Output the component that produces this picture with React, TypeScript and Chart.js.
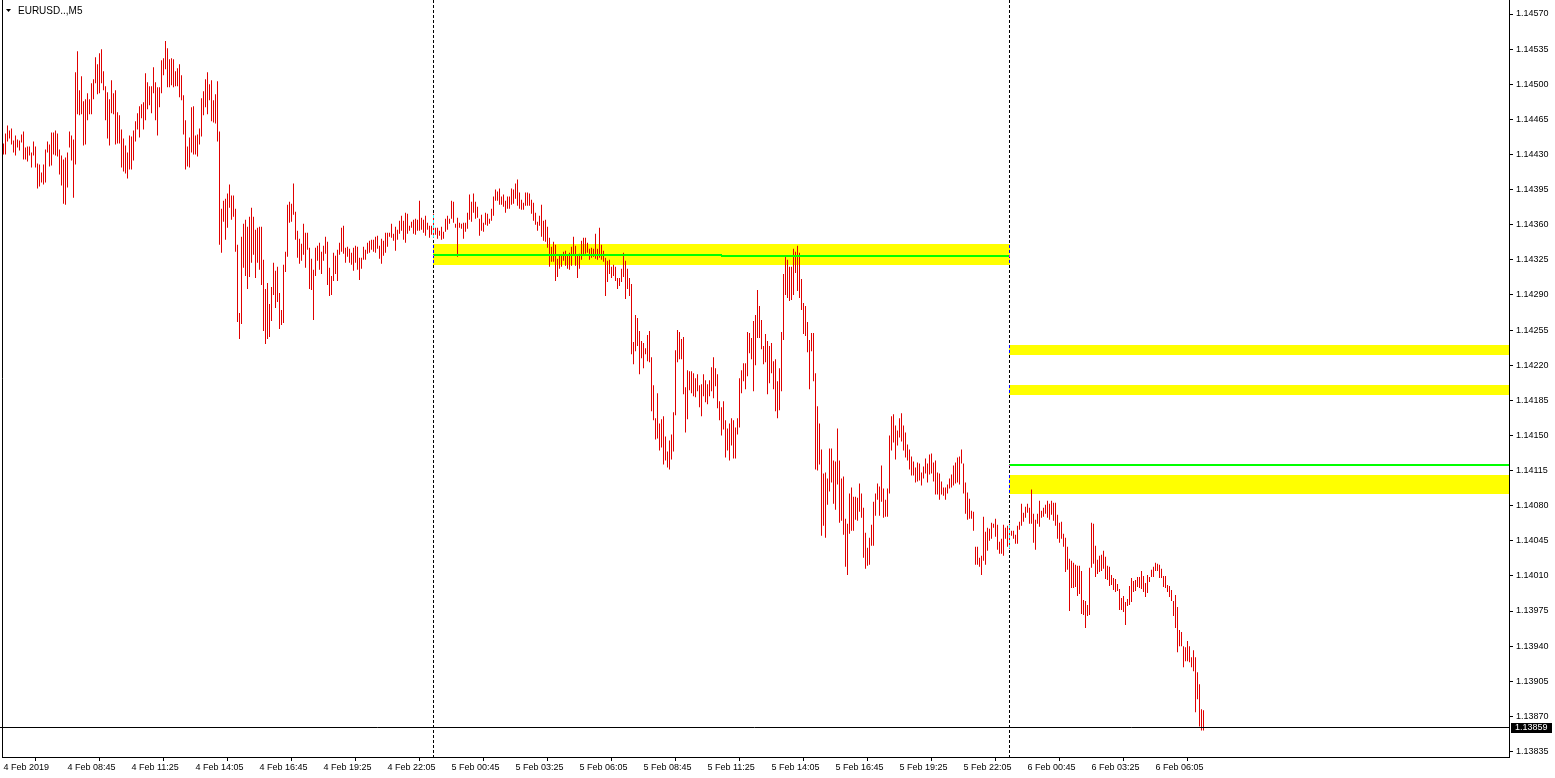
import React, { useEffect, useRef } from "react";
import { Chart, registerables } from "chart.js";

Chart.register(...registerables);

const chartTitle = "EURUSD..,M5";

// M5 bars, index 1 = first visible bar (4 Feb 06:05)
const barHighs = [
  1.14441,1.14451,1.14459,1.14454,1.14456,1.14444,1.14449,1.14445,1.14444,1.14450,
  1.14453,1.14437,1.14438,1.14438,1.14432,1.14443,1.14438,1.14421,1.14420,1.14412,
  1.14420,1.14435,1.14443,1.14440,1.14452,1.14452,1.14454,1.14451,1.14435,1.14429,
  1.14425,1.14427,1.14432,1.14453,1.14449,1.14445,1.14512,1.14533,1.14494,1.14508,
  1.14483,1.14485,1.14491,1.14485,1.14501,1.14505,1.14527,1.14520,1.14531,1.14535,
  1.14513,1.14498,1.14492,1.14485,1.14504,1.14491,1.14494,1.14472,1.14469,1.14455,
  1.14446,1.14439,1.14432,1.14449,1.14448,1.14454,1.14463,1.14471,1.14478,1.14480,
  1.14482,1.14511,1.14502,1.14498,1.14498,1.14517,1.14502,1.14497,1.14497,1.14524,
  1.14526,1.14543,1.14536,1.14525,1.14526,1.14525,1.14513,1.14516,1.14520,1.14509,
  1.14489,1.14464,1.14438,1.14447,1.14477,1.14478,1.14449,1.14450,1.14456,1.14486,
  1.14493,1.14505,1.14512,1.14500,1.14504,1.14484,1.14490,1.14503,1.14453,1.14376,
  1.14384,1.14386,1.14391,1.14400,1.14389,1.14389,1.14376,1.14340,1.14272,1.14348,
  1.14361,1.14365,1.14358,1.14368,1.14377,1.14368,1.14355,1.14357,1.14358,1.14358,
  1.14325,1.14296,1.14302,1.14281,1.14298,1.14322,1.14314,1.14318,1.14292,1.14275,
  1.14320,1.14333,1.14380,1.14383,1.14381,1.14401,1.14373,1.14354,1.14346,1.14341,
  1.14361,1.14352,1.14352,1.14337,1.14326,1.14315,1.14337,1.14339,1.14342,1.14333,
  1.14339,1.14348,1.14343,1.14317,1.14309,1.14332,1.14329,1.14335,1.14342,1.14357,
  1.14359,1.14337,1.14338,1.14336,1.14332,1.14337,1.14339,1.14338,1.14327,1.14327,
  1.14338,1.14335,1.14342,1.14344,1.14345,1.14345,1.14348,1.14349,1.14339,1.14346,
  1.14344,1.14352,1.14352,1.14352,1.14361,1.14351,1.14358,1.14355,1.14364,1.14369,
  1.14364,1.14372,1.14371,1.14359,1.14363,1.14365,1.14366,1.14365,1.14384,1.14367,
  1.14365,1.14369,1.14362,1.14359,1.14359,1.14371,1.14357,1.14357,1.14354,1.14358,
  1.14353,1.14366,1.14369,1.14366,1.14384,1.14383,1.14361,1.14367,1.14362,1.14361,
  1.14362,1.14362,1.14372,1.14390,1.14383,1.14391,1.14383,1.14378,1.14366,1.14370,
  1.14362,1.14372,1.14371,1.14366,1.14376,1.14388,1.14395,1.14393,1.14396,1.14388,
  1.14390,1.14384,1.14388,1.14388,1.14396,1.14395,1.14401,1.14405,1.14392,1.14385,
  1.14382,1.14392,1.14392,1.14391,1.14385,1.14382,1.14372,1.14363,1.14369,1.14380,
  1.14364,1.14365,1.14358,1.14347,1.14338,1.14343,1.14340,1.14326,1.14329,1.14329,
  1.14333,1.14334,1.14329,1.14332,1.14338,1.14348,1.14339,1.14329,1.14331,1.14344,
  1.14347,1.14347,1.14342,1.14336,1.14337,1.14336,1.14351,1.14336,1.14357,1.14340,
  1.14334,1.14327,1.14324,1.14325,1.14318,1.14320,1.14318,1.14307,1.14307,1.14316,
  1.14332,1.14324,1.14316,1.14307,1.14301,1.14243,1.14270,1.14267,1.14254,1.14244,
  1.14242,1.14237,1.14250,1.14254,1.14228,1.14200,1.14167,1.14192,1.14162,1.14166,
  1.14169,1.14149,1.14134,1.14145,1.14151,1.14173,1.14235,1.14255,1.14253,1.14246,
  1.14248,1.14198,1.14215,1.14214,1.14214,1.14212,1.14207,1.14211,1.14200,1.14201,
  1.14211,1.14205,1.14201,1.14205,1.14218,1.14228,1.14217,1.14211,1.14184,1.14178,
  1.14184,1.14165,1.14157,1.14162,1.14167,1.14165,1.14158,1.14167,1.14207,1.14215,
  1.14222,1.14222,1.14253,1.14252,1.14247,1.14264,1.14270,1.14295,1.14279,1.14265,
  1.14239,1.14251,1.14244,1.14239,1.14242,1.14224,1.14226,1.14204,1.14217,1.14253,
  1.14311,1.14328,1.14325,1.14318,1.14318,1.14336,1.14333,1.14339,1.14332,1.14306,
  1.14282,1.14279,1.14263,1.14245,1.14252,1.14252,1.14212,1.14179,1.14162,1.14136,
  1.14112,1.14113,1.14107,1.14137,1.14137,1.14125,1.14124,1.14157,1.14125,1.14107,
  1.14109,1.14067,1.14062,1.14092,1.14098,1.14089,1.14089,1.14088,1.14102,1.14092,
  1.14078,1.14053,1.14038,1.14048,1.14061,1.14084,1.14092,1.14102,1.14099,1.14120,
  1.14097,1.14086,1.14097,1.14150,1.14169,1.14171,1.14160,1.14155,1.14167,1.14172,
  1.14160,1.14153,1.14141,1.14136,1.14129,1.14124,1.14118,1.14123,1.14122,1.14113,
  1.14119,1.14127,1.14122,1.14131,1.14132,1.14123,1.14125,1.14113,1.14112,1.14104,
  1.14098,1.14098,1.14101,1.14107,1.14111,1.14120,1.14123,1.14128,1.14129,1.14136,
  1.14122,1.14103,1.14093,1.14087,1.14075,1.14074,1.14039,1.14039,1.14028,1.14030,
  1.14069,1.14054,1.14058,1.14057,1.14063,1.14062,1.14067,1.14061,1.14044,1.14047,
  1.14061,1.14058,1.14060,1.14062,1.14055,1.14055,1.14051,1.14060,1.14064,1.14082,
  1.14073,1.14079,1.14082,1.14078,1.14096,1.14072,1.14066,1.14072,1.14085,1.14075,
  1.14078,1.14081,1.14085,1.14082,1.14085,1.14083,1.14083,1.14071,1.14063,1.14064,
  1.14052,1.14048,1.14039,1.14027,1.14025,1.14023,1.14021,1.14020,1.14020,1.14015,
  1.13986,1.13985,1.13981,1.14018,1.14063,1.14062,1.14040,1.14026,1.14030,1.14031,
  1.14035,1.14029,1.14020,1.14019,1.14011,1.14008,1.14007,1.14002,1.13997,1.13988,
  1.13990,1.13984,1.13987,1.14000,1.14008,1.14005,1.14006,1.14009,1.14009,1.14015,
  1.14010,1.14003,1.14011,1.14009,1.14016,1.14019,1.14023,1.14022,1.14021,1.14017,
  1.14010,1.14010,1.14001,1.14000,1.13996,1.13985,1.13991,1.13979,1.13956,1.13954,
  1.13940,1.13939,1.13945,1.13940,1.13929,1.13936,1.13929,1.13914,1.13902,1.13877,
  1.13876
];

const barLows = [
  1.14430,1.14430,1.14443,1.14446,1.14440,1.14432,1.14429,1.14437,1.14434,1.14442,
  1.14425,1.14425,1.14423,1.14429,1.14417,1.14429,1.14417,1.14396,1.14398,1.14402,
  1.14400,1.14402,1.14432,1.14418,1.14419,1.14430,1.14429,1.14428,1.14410,1.14399,
  1.14381,1.14380,1.14397,1.14437,1.14424,1.14387,1.14420,1.14470,1.14469,1.14470,
  1.14439,1.14440,1.14464,1.14470,1.14470,1.14485,1.14501,1.14490,1.14491,1.14501,
  1.14494,1.14464,1.14446,1.14439,1.14471,1.14470,1.14440,1.14441,1.14441,1.14417,
  1.14413,1.14411,1.14406,1.14415,1.14415,1.14424,1.14443,1.14455,1.14447,1.14466,
  1.14455,1.14464,1.14475,1.14479,1.14471,1.14491,1.14464,1.14449,1.14477,1.14491,
  1.14509,1.14515,1.14497,1.14497,1.14499,1.14497,1.14498,1.14498,1.14487,1.14484,
  1.14450,1.14415,1.14418,1.14417,1.14432,1.14430,1.14430,1.14428,1.14440,1.14448,
  1.14469,1.14477,1.14470,1.14484,1.14463,1.14462,1.14461,1.14443,1.14340,1.14332,
  1.14363,1.14345,1.14357,1.14377,1.14365,1.14368,1.14333,1.14263,1.14246,1.14261,
  1.14317,1.14309,1.14296,1.14308,1.14322,1.14330,1.14307,1.14322,1.14315,1.14300,
  1.14254,1.14241,1.14246,1.14248,1.14264,1.14290,1.14277,1.14283,1.14256,1.14260,
  1.14262,1.14313,1.14328,1.14362,1.14363,1.14370,1.14345,1.14327,1.14321,1.14324,
  1.14330,1.14317,1.14335,1.14296,1.14295,1.14265,1.14309,1.14324,1.14315,1.14311,
  1.14324,1.14331,1.14300,1.14289,1.14290,1.14304,1.14311,1.14304,1.14330,1.14333,
  1.14331,1.14322,1.14328,1.14322,1.14320,1.14314,1.14322,1.14315,1.14305,1.14316,
  1.14325,1.14325,1.14331,1.14332,1.14335,1.14333,1.14332,1.14336,1.14326,1.14321,
  1.14329,1.14332,1.14338,1.14348,1.14347,1.14344,1.14334,1.14345,1.14351,1.14354,
  1.14345,1.14342,1.14351,1.14354,1.14357,1.14351,1.14350,1.14354,1.14354,1.14355,
  1.14352,1.14349,1.14355,1.14347,1.14350,1.14347,1.14350,1.14346,1.14349,1.14345,
  1.14346,1.14353,1.14355,1.14361,1.14366,1.14362,1.14357,1.14328,1.14357,1.14356,
  1.14346,1.14353,1.14356,1.14365,1.14363,1.14372,1.14366,1.14367,1.14349,1.14354,
  1.14353,1.14360,1.14359,1.14361,1.14364,1.14369,1.14384,1.14384,1.14380,1.14380,
  1.14378,1.14372,1.14376,1.14376,1.14380,1.14381,1.14386,1.14379,1.14376,1.14375,
  1.14375,1.14379,1.14379,1.14379,1.14371,1.14364,1.14360,1.14354,1.14359,1.14348,
  1.14344,1.14343,1.14337,1.14318,1.14323,1.14323,1.14304,1.14308,1.14316,1.14318,
  1.14324,1.14319,1.14316,1.14315,1.14319,1.14329,1.14319,1.14307,1.14316,1.14325,
  1.14329,1.14331,1.14332,1.14325,1.14327,1.14328,1.14326,1.14325,1.14327,1.14325,
  1.14323,1.14289,1.14303,1.14311,1.14307,1.14309,1.14304,1.14296,1.14299,1.14303,
  1.14308,1.14286,1.14296,1.14289,1.14231,1.14221,1.14234,1.14239,1.14211,1.14227,
  1.14217,1.14231,1.14224,1.14223,1.14174,1.14165,1.14146,1.14147,1.14135,1.14138,
  1.14121,1.14125,1.14118,1.14116,1.14126,1.14134,1.14170,1.14223,1.14226,1.14226,
  1.14191,1.14153,1.14166,1.14195,1.14192,1.14189,1.14188,1.14194,1.14178,1.14169,
  1.14189,1.14183,1.14181,1.14189,1.14194,1.14187,1.14199,1.14177,1.14165,1.14150,
  1.14156,1.14128,1.14135,1.14125,1.14140,1.14127,1.14127,1.14151,1.14158,1.14192,
  1.14204,1.14196,1.14209,1.14232,1.14226,1.14194,1.14220,1.14247,1.14247,1.14236,
  1.14221,1.14223,1.14191,1.14202,1.14212,1.14196,1.14174,1.14167,1.14175,1.14194,
  1.14245,1.14290,1.14287,1.14284,1.14285,1.14290,1.14312,1.14294,1.14287,1.14275,
  1.14251,1.14249,1.14233,1.14196,1.14234,1.14204,1.14116,1.14115,1.14121,1.14050,
  1.14060,1.14048,1.14081,1.14094,1.14103,1.14082,1.14076,1.14101,1.14063,1.14065,
  1.14051,1.14019,1.14011,1.14052,1.14055,1.14055,1.14066,1.14065,1.14074,1.14068,
  1.14028,1.14017,1.14020,1.14021,1.14040,1.14040,1.14070,1.14086,1.14070,1.14084,
  1.14068,1.14069,1.14069,1.14092,1.14135,1.14143,1.14126,1.14140,1.14148,1.14144,
  1.14135,1.14128,1.14125,1.14116,1.14110,1.14110,1.14103,1.14104,1.14105,1.14100,
  1.14107,1.14112,1.14103,1.14111,1.14112,1.14104,1.14091,1.14091,1.14086,1.14091,
  1.14090,1.14086,1.14092,1.14097,1.14098,1.14100,1.14102,1.14103,1.14101,1.14122,
  1.14092,1.14072,1.14066,1.14067,1.14067,1.14055,1.14021,1.14021,1.14019,1.14011,
  1.14025,1.14021,1.14035,1.14045,1.14047,1.14058,1.14049,1.14036,1.14032,1.14032,
  1.14030,1.14047,1.14039,1.14037,1.14050,1.14047,1.14042,1.14042,1.14056,1.14060,
  1.14064,1.14068,1.14073,1.14062,1.14062,1.14043,1.14036,1.14062,1.14059,1.14068,
  1.14069,1.14072,1.14068,1.14066,1.14071,1.14065,1.14060,1.14047,1.14043,1.14047,
  1.14039,1.14014,1.14016,1.13975,1.13998,1.13998,1.13999,1.13990,1.13992,1.13972,
  1.13971,1.13958,1.13970,1.13971,1.14018,1.14022,1.14009,1.14012,1.14014,1.14015,
  1.14017,1.14007,1.14006,1.14000,1.14001,1.13996,1.13994,1.13995,1.13976,1.13976,
  1.13974,1.13961,1.13980,1.13981,1.13984,1.13994,1.13995,1.13999,1.13998,1.13997,
  1.13994,1.13989,1.13993,1.14004,1.14009,1.14009,1.14015,1.14015,1.14008,1.14008,
  1.13999,1.13998,1.13994,1.13989,1.13985,1.13970,1.13958,1.13934,1.13940,1.13940,
  1.13919,1.13925,1.13925,1.13924,1.13919,1.13915,1.13874,1.13887,1.13860,1.13856,
  1.13856
];

const xTickBars = [1, 33, 65, 97, 129, 161, 193, 225, 257, 289, 321, 353, 385, 417, 449, 481, 513, 545, 577];
const xTickLabels = [
  "4 Feb 2019", "4 Feb 08:45", "4 Feb 11:25", "4 Feb 14:05", "4 Feb 16:45", "4 Feb 19:25",
  "4 Feb 22:05", "5 Feb 00:45", "5 Feb 03:25", "5 Feb 06:05", "5 Feb 08:45", "5 Feb 11:25",
  "5 Feb 14:05", "5 Feb 16:45", "5 Feb 19:25", "5 Feb 22:05", "6 Feb 00:45", "6 Feb 03:25", "6 Feb 06:05"
];
const yTickValues = [
  1.14570, 1.14535, 1.14500, 1.14465, 1.14430, 1.14395, 1.14360, 1.14325, 1.14290, 1.14255, 1.14220,
  1.14185, 1.14150, 1.14115, 1.14080, 1.14045, 1.14010, 1.13975, 1.13940, 1.13905, 1.13870, 1.13835
];
const yAxisMin = 1.138295;
const yAxisMax = 1.14574;

const lastPrice = 1.13859;
const daySeparatorBars = [216, 504];

// yellow rectangles (null end = to the right edge)
const zoneStartBar = [216, 504, 504, 504];
const zoneEndBar: (number | null)[] = [504, null, null, null];
const zoneTop = [1.14341, 1.14240, 1.14200, 1.14111];
const zoneBottom = [1.14320, 1.14230, 1.14190, 1.14092];

// green horizontal lines
const lineStartBar = [216, 360, 504];
const lineEndBar: (number | null)[] = [360, 504, null];
const linePrice = [1.14330, 1.14329, 1.14121];

const FONT = "'Liberation Sans', Arial, sans-serif";
const BAR_COLOR = "#e00000";

const overlayPlugin = {
  id: "mt4Overlay",
  beforeDraw(chart: any) {
    const { ctx, width, height } = chart;
    ctx.save();
    ctx.fillStyle = "#ffffff";
    ctx.fillRect(0, 0, width, height);
    ctx.restore();
  },
  beforeDatasetsDraw(chart: any) {
    const { ctx, chartArea, scales } = chart;
    const xs = scales.x;
    const ys = scales.y;
    ctx.save();
    ctx.fillStyle = "#ffff00";
    for (let i = 0; i < zoneTop.length; i++) {
      const x0 = xs.getPixelForValue(zoneStartBar[i]) - 0.5;
      const e = zoneEndBar[i];
      const x1 = e === null ? chartArea.right : xs.getPixelForValue(e) + 0.5;
      const y0 = Math.round(ys.getPixelForValue(zoneTop[i]));
      const y1 = Math.round(ys.getPixelForValue(zoneBottom[i]));
      ctx.fillRect(x0, y0, x1 - x0, y1 - y0);
    }
    ctx.restore();
  },
  afterDatasetsDraw(chart: any) {
    const { ctx, chartArea, scales } = chart;
    const xs = scales.x;
    const ys = scales.y;
    ctx.save();
    ctx.strokeStyle = "#00ff00";
    ctx.lineWidth = 2;
    for (let i = 0; i < linePrice.length; i++) {
      const x0 = xs.getPixelForValue(lineStartBar[i]) - 0.5;
      const e = lineEndBar[i];
      const x1 = e === null ? chartArea.right : xs.getPixelForValue(e) + 0.5;
      const y = Math.round(ys.getPixelForValue(linePrice[i]));
      ctx.beginPath();
      ctx.moveTo(x0, y);
      ctx.lineTo(x1, y);
      ctx.stroke();
    }
    // day separators: inverted (XOR-like) dotted lines
    ctx.lineWidth = 1;
    ctx.globalCompositeOperation = "difference";
    ctx.strokeStyle = "#ffffff";
    ctx.setLineDash([3, 2]);
    for (const b of daySeparatorBars) {
      const x = Math.floor(xs.getPixelForValue(b)) + 0.5;
      ctx.beginPath();
      ctx.moveTo(x, 0);
      ctx.lineTo(x, chartArea.bottom);
      ctx.stroke();
    }
    ctx.globalCompositeOperation = "source-over";
    ctx.setLineDash([]);
    ctx.strokeStyle = "#000000";
    const py = Math.round(ys.getPixelForValue(lastPrice)) + 0.5;
    ctx.beginPath();
    ctx.moveTo(0, py);
    ctx.lineTo(chartArea.right, py);
    ctx.stroke();
    ctx.restore();
  },
  afterDraw(chart: any) {
    const { ctx, chartArea, scales } = chart;
    const ys = scales.y;
    ctx.save();
    ctx.strokeStyle = "#000000";
    ctx.lineWidth = 1;
    ctx.beginPath();
    ctx.moveTo(2.5, 0);
    ctx.lineTo(2.5, chartArea.bottom + 0.5);
    ctx.moveTo(chartArea.right + 0.5, 0);
    ctx.lineTo(chartArea.right + 0.5, chartArea.top + 1);
    ctx.stroke();
    // title
    ctx.fillStyle = "#000000";
    ctx.beginPath();
    ctx.moveTo(6, 9);
    ctx.lineTo(11, 9);
    ctx.lineTo(8.5, 12);
    ctx.closePath();
    ctx.fill();
    ctx.font = "10px " + FONT;
    ctx.textBaseline = "middle";
    ctx.textAlign = "left";
    ctx.fillText(chartTitle, 18, 11);
    // last price box
    const py = Math.round(ys.getPixelForValue(lastPrice));
    ctx.fillStyle = "#000000";
    ctx.fillRect(chartArea.right + 2, py - 4, 41, 10);
    ctx.fillStyle = "#ffffff";
    ctx.font = "9px " + FONT;
    ctx.textAlign = "left";
    ctx.fillText(lastPrice.toFixed(5), chartArea.right + 6, py + 1);
    ctx.restore();
  },
};

export default function App() {
  const ref = useRef<HTMLCanvasElement | null>(null);
  useEffect(() => {
    document.body.style.margin = "0";
    const canvas = ref.current;
    if (!canvas) return;
    const data = barHighs.map((h, i) => ({ x: i + 1, y: [barLows[i], h] }));
    const chart = new Chart(canvas, {
      type: "bar",
      data: {
        datasets: [
          {
            data: data as any,
            backgroundColor: BAR_COLOR,
            borderWidth: 0,
            barThickness: 1,
            inflateAmount: 0,
          } as any,
        ],
      },
      options: {
        animation: false,
        responsive: false,
        maintainAspectRatio: false,
        devicePixelRatio: 1,
        layout: { padding: { left: 2, top: 10, right: 0, bottom: 0 } },
        plugins: {
          legend: { display: false },
          tooltip: { enabled: false },
          title: { display: false },
        },
        scales: {
          x: {
            type: "linear",
            min: 0.25,
            max: 753.75,
            bounds: "data",
            offset: false,
            grid: { display: true, drawOnChartArea: false, drawTicks: true, tickLength: 4, color: "#000000" },
            border: { display: true, color: "#000000" },
            ticks: {
              autoSkip: false,
              maxRotation: 0,
              minRotation: 0,
              align: "start",
              padding: 1,
              color: "#000000",
              font: { family: FONT, size: 9 },
              callback: (_v: any, i: number) => xTickLabels[i] ?? "",
            },
            afterBuildTicks: (s: any) => {
              s.ticks = xTickBars.map((v) => ({ value: v }));
            },
            afterFit: (s: any) => {
              s.height = 21;
            },
          },
          y: {
            type: "linear",
            position: "right",
            min: yAxisMin,
            max: yAxisMax,
            bounds: "data",
            grid: { display: true, drawOnChartArea: false, drawTicks: true, tickLength: 4, color: "#000000" },
            border: { display: true, color: "#000000" },
            ticks: {
              padding: 3,
              color: "#000000",
              font: { family: FONT, size: 9 },
              callback: (v: any) => Number(v).toFixed(5),
            },
            afterBuildTicks: (s: any) => {
              s.ticks = yTickValues.map((v) => ({ value: v }));
            },
            afterFit: (s: any) => {
              s.width = 46;
            },
          },
        },
      } as any,
      plugins: [overlayPlugin],
    });
    return () => chart.destroy();
  }, []);
  return <canvas ref={ref} width={1555} height={778} style={{ display: "block", width: 1555, height: 778 }} />;
}
